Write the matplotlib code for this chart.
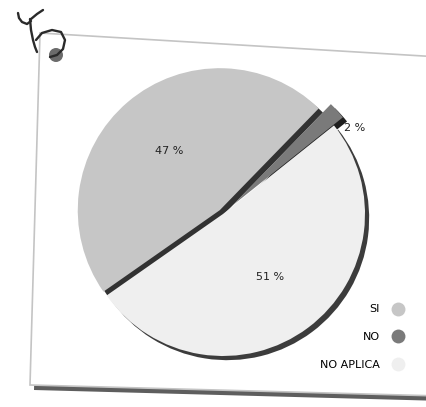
import matplotlib.pyplot as plt
from matplotlib.patches import Polygon, Circle
from matplotlib.lines import Line2D
import numpy as np

# data
categories = ['SI', 'NO', 'NO APLICA']
values = [47, 2, 51]
colors = ['#c6c6c6', '#7a7a7a', '#efefef']

W, H = 426, 407

fig = plt.figure(figsize=(W / 100, H / 100), dpi=100)
ax = fig.add_axes([0, 0, 1, 1])

# the card (tilted sheet) and its shadow
card = [(40, H - 33), (440, H - 57), (440, H - 396), (30, H - 385)]
shadow = [(x + 4, y - 5) for x, y in card]
ax.add_patch(Polygon(shadow, closed=True, facecolor='#5e5e5e', edgecolor='none', zorder=-3))
ax.add_patch(Polygon(card, closed=True, facecolor='white', edgecolor='#c4c4c4', lw=1.2, zorder=-2))

# pin + handwritten mark in the corner
ax.add_patch(Circle((56, H - 55), 7, facecolor='#6b6b6b', edgecolor='none', zorder=3))
strokes = [
    ([18, 19, 22, 27, 31], [13, 18, 22, 24, 21]),
    ([43, 37, 31], [10, 14, 19]),
    ([30, 31, 33, 35, 37], [19, 30, 40, 47, 52]),
    ([36, 42, 52, 61, 65, 63, 57, 50], [40, 33, 30, 32, 40, 49, 55, 57]),
]
for sx, sy in strokes:
    ax.plot(sx, [H - v for v in sy], color='#2a2a2a', lw=1.7,
            solid_capstyle='round', solid_joinstyle='round', zorder=4)

# pie
cx, cy = 223, H - 214
wedges, texts, autotexts = ax.pie(
    values, colors=colors, center=(cx, cy), radius=142,
    startangle=215, counterclock=False,
    explode=[5, 12, 0],
    autopct=lambda p: f'{p:.0f} %', pctdistance=0.55,
    wedgeprops=dict(linewidth=0),
    shadow=dict(ox=3, oy=-3, shade=0.75, alpha=1.0),
    textprops=dict(fontsize=8, color='#222222'),
    frame=True,
)
ax.set_xlim(0, W)
ax.set_ylim(0, H)
ax.set_aspect('equal')
ax.axis('off')

# move the small slice label outside the pie
w = wedges[1]
mid = np.deg2rad((w.theta1 + w.theta2) / 2)
autotexts[1].set_position((cx + 158 * np.cos(mid) + 15, cy + 158 * np.sin(mid) - 20))

# legend
handles = [Line2D([], [], ls='none', marker='o', markersize=10,
                  markerfacecolor=c, markeredgecolor='none') for c in colors]
ax.legend(handles, categories, loc='lower right', bbox_to_anchor=(0.97, 0.08),
          frameon=False, markerfirst=False, fontsize=8, labelspacing=1.6,
          handletextpad=0.6, borderaxespad=0)

fig.savefig('out.png', dpi=100)
